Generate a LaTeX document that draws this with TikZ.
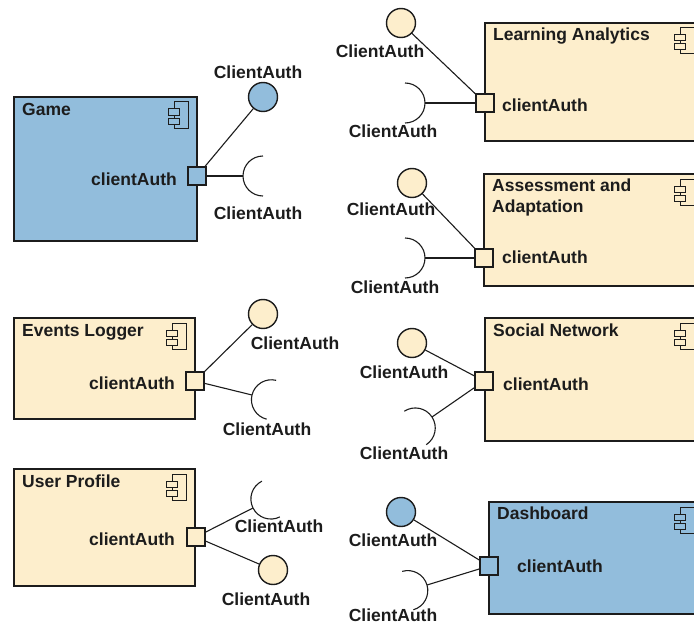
\documentclass[tikz,border=0pt]{standalone}
\usepackage{fontspec}
\setmainfont{Liberation Sans}
\definecolor{compblue}{RGB}{146,189,220}
\definecolor{compcream}{RGB}{253,238,204}
\definecolor{ink}{RGB}{28,28,28}

\tikzset{
  comp/.style={draw=ink, line width=1.6pt, anchor=north west, inner sep=0pt},
  port/.style={draw=ink, line width=1.5pt, minimum size=18pt, inner sep=0pt},
  lolli/.style={draw=ink, line width=1.4pt, circle, minimum size=29pt, inner sep=0pt},
  conn/.style={draw=ink, line width=1.1pt},
  title/.style={anchor=north west, inner sep=0pt, align=left, text=ink},
  lbl/.style={inner sep=0pt, text=ink},
  pics/compicon/.style={code={
    \draw[ink, line width=1pt] (0,0) rectangle (14,-26);
    \draw[ink, line width=1pt, fill=#1] (-6,-7) rectangle (5,-13);
    \draw[ink, line width=1pt, fill=#1] (-6,-16) rectangle (5,-22);
  }},
  pics/socket/.style={code={
    \draw[conn] (20pt,20pt) arc[start angle=90, end angle=270, radius=20pt];
  }}
}

\begin{document}
\begin{tikzpicture}[x=1pt, y=1pt, font=\fontsize{17.5}{21}\selectfont\bfseries]
  \clip (0,0) rectangle (694,-626);

  % component boxes
  \foreach \n/\x/\y/\w/\h/\c in {game/13/96/183/144/compblue,
      logger/13/317/181/101/compcream, profile/13/468/181/117/compcream,
      analytics/484/22/218/118/compcream, adapt/483/173/219/112/compcream,
      social/484/317/218/123/compcream, dash/488/501/214/112/compblue} {
      \node[comp, fill=\c, minimum width=\w pt, minimum height=\h pt] (\n) at (\x,-\y) {};
      \path (\n.north east) ++(-23,-6) pic {compicon=\c};
    }

  \node[title] at ([shift={(9,-7)}]game.north west) {Game};
  \node[title] at ([shift={(9,-7)}]logger.north west) {Events Logger};
  \node[title] at ([shift={(9,-7)}]profile.north west) {User Profile};
  \node[title] at ([shift={(9,-6)}]analytics.north west) {Learning Analytics};
  \node[title] at ([shift={(9,-6)}]adapt.north west) {Assessment and\\Adaptation};
  \node[title] at ([shift={(9,-7)}]social.north west) {Social Network};
  \node[title] at ([shift={(9,-6)}]dash.north west) {Dashboard};

  % ports
  \foreach \n/\x/\y/\c in {gamep/197/176/compblue, loggerp/195/381/compcream,
      profilep/196/537/compcream, analyticsp/485/103/compcream,
      adaptp/484/258/compcream, socialp/484/381/compcream, dashp/489/566/compblue} {
      \node[port, fill=\c] (\n) at (\x,-\y) {};
    }

  \node[lbl, anchor=base east] at ([shift={(-20,-9)}]gamep.center) {clientAuth};
  \node[lbl, anchor=base east] at ([shift={(-20,-8)}]loggerp.center) {clientAuth};
  \node[lbl, anchor=base east] at ([shift={(-21,-8)}]profilep.center) {clientAuth};
  \node[lbl, anchor=base west] at ([shift={(17,-9)}]analyticsp.center) {clientAuth};
  \node[lbl, anchor=base west] at ([shift={(18,-5)}]adaptp.center) {clientAuth};
  \node[lbl, anchor=base west] at ([shift={(19,-9)}]socialp.center) {clientAuth};
  \node[lbl, anchor=base west] at ([shift={(28,-6)}]dashp.center) {clientAuth};

  % provided interfaces
  \foreach \n/\x/\y/\c in {gamel/263/97/compblue, loggerl/263/314/compcream,
      profilel/273/570/compcream, analyticsl/401/23/compcream,
      adaptl/412/183/compcream, sociall/412/343/compcream, dashl/401/512/compblue} {
      \node[lolli, fill=\c] (\n) at (\x,-\y) {};
    }

  % required interfaces
  \coordinate (games) at (243,-176);
  \coordinate (loggers) at (252,-395);
  \coordinate (profiles) at (253,-508);
  \coordinate (analyticss) at (425,-103);
  \coordinate (adapts) at (425,-258);
  \coordinate (socials) at (432,-417);
  \coordinate (dashs) at (427,-585);

  \foreach \n/\a in {game/0, logger/-13.8, profile/26.6, analytics/180,
      adapt/180, social/213.2, dash/196.2} {
      \draw[conn] (\n p) -- (\n l);
      \draw[conn] (\n p) -- (\n s);
      \pic[rotate=\a] at (\n s) {socket};
    }

  % interface labels
  \node[lbl] (gamell) at (258,-72) {ClientAuth};
  \node[lbl] (gamesl) at (258,-213) {ClientAuth};
  \node[lbl] (loggerll) at (295,-343) {ClientAuth};
  \node[lbl] (loggersl) at (267,-429) {ClientAuth};
  \node[lbl] (profilesl) at (279,-526) {ClientAuth};
  \node[lbl] (profilell) at (266,-599) {ClientAuth};
  \node[lbl] (analyticsll) at (380,-51) {ClientAuth};
  \node[lbl] (analyticssl) at (393,-131) {ClientAuth};
  \node[lbl] (adaptll) at (391,-209) {ClientAuth};
  \node[lbl] (adaptsl) at (395,-287) {ClientAuth};
  \node[lbl] (socialll) at (404,-372) {ClientAuth};
  \node[lbl] (socialsl) at (404,-453) {ClientAuth};
  \node[lbl] (dashll) at (393,-540) {ClientAuth};
  \node[lbl] (dashsl) at (393,-615) {ClientAuth};
\end{tikzpicture}
\end{document}
